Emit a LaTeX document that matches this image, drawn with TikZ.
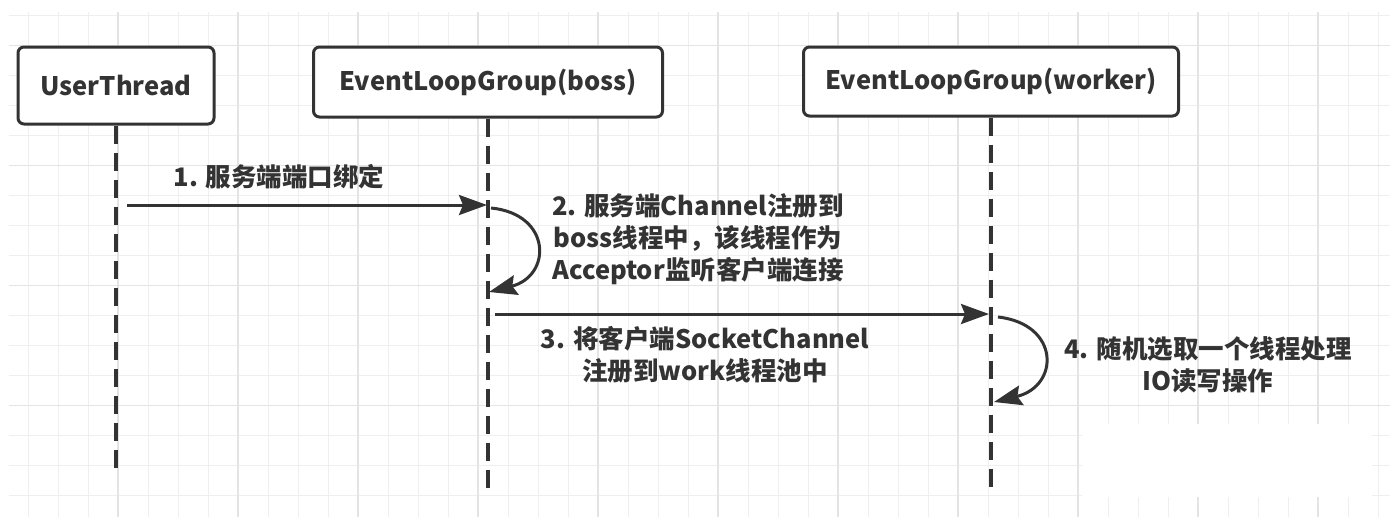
\documentclass[tikz,border=0pt]{standalone}
\usepackage{fontspec}
\setmainfont{Noto Sans CJK SC}
\usetikzlibrary{positioning, arrows.meta}
\definecolor{ink}{HTML}{333333}
\definecolor{gridminor}{HTML}{EFEFEF}
\definecolor{gridmajor}{HTML}{E4E4E4}

\tikzset{
  actor/.style={draw=ink, line width=3pt, rounded corners=6pt, fill=white,
    text=ink, font=\fontsize{25.5}{32}\selectfont\bfseries, inner sep=0pt},
  lifeline/.style={draw=ink, line width=3.5pt, dash pattern=on 18pt off 9pt},
  msg/.style={draw=ink, line width=3pt, -{Stealth[length=28pt,width=20pt,inset=4pt]}},
  note/.style={text=ink, font=\fontsize{25.5}{32}\selectfont\bfseries,
    align=center, inner sep=0pt},
  gridline/.style={draw=gridminor, line width=1pt},
  gridbold/.style={draw=gridmajor, line width=1.2pt},
}

\begin{document}
\begin{tikzpicture}[x=1pt, y=-1pt]
\useasboundingbox (0,0) rectangle (1390,517);
\fill[white] (0,0) rectangle (1390,517);

% background grid
\foreach \x in {28,58,...,1388} \draw[gridline] (\x,12) -- (\x,517);
\foreach \y in {15.7,45.7,...,515} \draw[gridline] (9,\y) -- (1390,\y);
\foreach \x in {118,238,...,1388} \draw[gridbold] (\x,12) -- (\x,517);
\foreach \y in {45.7,165.7,...,515} \draw[gridbold] (9,\y) -- (1390,\y);
\fill[white] (1082,424) rectangle (1372,497);

% actors
\node[actor, minimum width=196pt, minimum height=77pt] (user) at (116,85.5) {UserThread};
\node[actor, minimum width=349pt, minimum height=70pt] (boss) at (488,82) {EventLoopGroup(boss)};
\node[actor, minimum width=375pt, minimum height=69pt] (worker) at (991,81.5) {EventLoopGroup(worker)};

% lifelines
\coordinate (userEnd) at (116,476);
\coordinate (bossEnd) at (488,490);
\coordinate (workerEnd) at (991,490);
\draw[lifeline] (user.south) -- (userEnd);
\draw[lifeline] (boss.south) -- (bossEnd);
\draw[lifeline] (worker.south) -- (workerEnd);

% messages
\coordinate (bindFrom) at (127,205);
\coordinate (bindTo) at (487,205);
\draw[msg] (bindFrom) -- (bindTo);
\node[note] (bind) at (279,177) {1. 服务端端口绑定};

\coordinate (acceptFrom) at (491,208);
\coordinate (acceptTo) at (489,292);
\draw[msg] (acceptFrom) .. controls (552,214) and (552,276) .. (acceptTo);
\node[note] (accept) at (698,239) {2. 服务端Channel注册到\\boss线程中，该线程作为\\Acceptor监听客户端连接};

\coordinate (dispatchFrom) at (495,314);
\coordinate (dispatchTo) at (989,314);
\draw[msg] (dispatchFrom) -- (dispatchTo);
\node[note] (dispatch) at (705,355) {3. 将客户端SocketChannel\\注册到work线程池中};

\coordinate (ioFrom) at (998,317);
\coordinate (ioTo) at (994,402);
\draw[msg] (ioFrom) .. controls (1060,324) and (1060,386) .. (ioTo);
\node[note] (io) at (1208,364.5) {4. 随机选取一个线程处理\\IO读写操作};
\end{tikzpicture}
\end{document}
